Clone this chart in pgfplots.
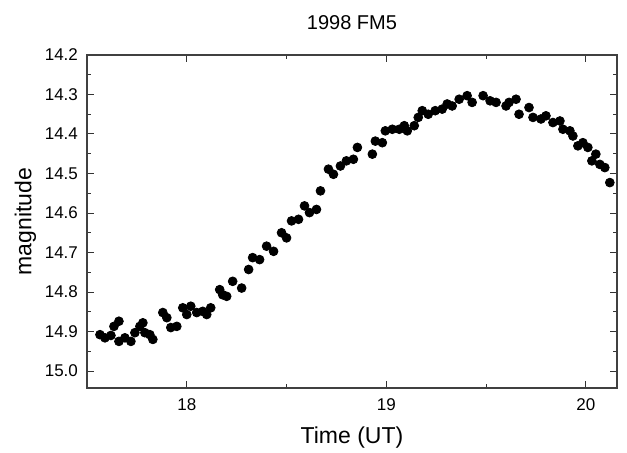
\documentclass[border=0pt]{standalone}
\usepackage{pgfplots}
\pgfplotsset{compat=1.18}
\usepackage{fontspec}
\setmainfont{Liberation Sans}
\begin{document}
\begin{tikzpicture}
\useasboundingbox (-43.5pt,-32.5pt) rectangle (270pt,194pt);
\begin{axis}[
  at={(0,0)}, anchor=south west,
  scale only axis, width=265pt, height=166.5pt,
  xmin=17.5, xmax=20.156,
  ymin=14.2, ymax=15.043, y dir=reverse,
  xtick={18,19,20}, minor xtick={17.5,18.5,19.5},
  ytick={14.2,14.3,14.4,14.5,14.6,14.7,14.8,14.9,15.0},
  minor ytick={14.25,14.35,14.45,14.55,14.65,14.75,14.85,14.95},
  y tick label style={xshift=-1pt},
  yticklabel style={/pgf/number format/.cd, fixed, fixed zerofill, precision=1},
  /pgf/number format/assume math mode=true,
  tick align=inside,
  major tick length=3.5pt, minor tick length=2pt,
  every tick/.style={black!80, line width=0.5pt},
  axis line style={black!75, line width=0.7pt},
  tick label style={font=\fontsize{8.5}{9}\selectfont},
  x tick label style={yshift=-2pt},
  xlabel={Time (UT)}, ylabel={magnitude},
  label style={font=\fontsize{11.5}{12}\selectfont},
  xlabel style={yshift=-1pt},
  ylabel style={yshift=-2.5pt},
  title={1998 FM5},
  title style={font=\fontsize{10}{11}\selectfont, yshift=3pt},
]
\addplot[only marks, mark=*, mark size=2.2pt, black] coordinates {
(17.565,14.908) (17.59,14.916) (17.62,14.91) (17.635,14.887) (17.66,14.874)
(17.66,14.925) (17.69,14.916) (17.72,14.925) (17.74,14.903) (17.765,14.887)
(17.78,14.878) (17.79,14.903) (17.815,14.908) (17.83,14.92) (17.88,14.852)
(17.90,14.865) (17.92,14.89) (17.95,14.887) (17.98,14.84) (18.0,14.857)
(18.02,14.836) (18.05,14.852) (18.08,14.849) (18.10,14.857) (18.12,14.84)
(18.165,14.794) (18.18,14.807) (18.20,14.811) (18.23,14.773) (18.275,14.79)
(18.31,14.743) (18.33,14.713) (18.365,14.718) (18.40,14.684) (18.435,14.697)
(18.475,14.65) (18.50,14.663) (18.525,14.62) (18.56,14.616) (18.59,14.582)
(18.615,14.599) (18.65,14.591) (18.67,14.544) (18.71,14.489) (18.735,14.502)
(18.77,14.481) (18.80,14.468) (18.835,14.464) (18.855,14.434) (18.93,14.451)
(18.945,14.418) (18.98,14.422) (18.995,14.392) (19.03,14.388) (19.065,14.388)
(19.09,14.379) (19.105,14.392) (19.14,14.379) (19.16,14.358) (19.18,14.341)
(19.21,14.35) (19.245,14.341) (19.28,14.337) (19.305,14.324) (19.33,14.329)
(19.365,14.312) (19.405,14.303) (19.43,14.32) (19.485,14.303) (19.52,14.316)
(19.55,14.32) (19.60,14.329) (19.615,14.32) (19.65,14.312) (19.665,14.35)
(19.715,14.333) (19.735,14.358) (19.775,14.362) (19.80,14.354) (19.835,14.371)
(19.87,14.367) (19.885,14.388) (19.92,14.392) (19.935,14.405) (19.96,14.43)
(19.985,14.422) (20.01,14.434) (20.03,14.468) (20.05,14.451) (20.07,14.477)
(20.095,14.485) (20.12,14.523)
};
\end{axis}
\end{tikzpicture}
\end{document}
